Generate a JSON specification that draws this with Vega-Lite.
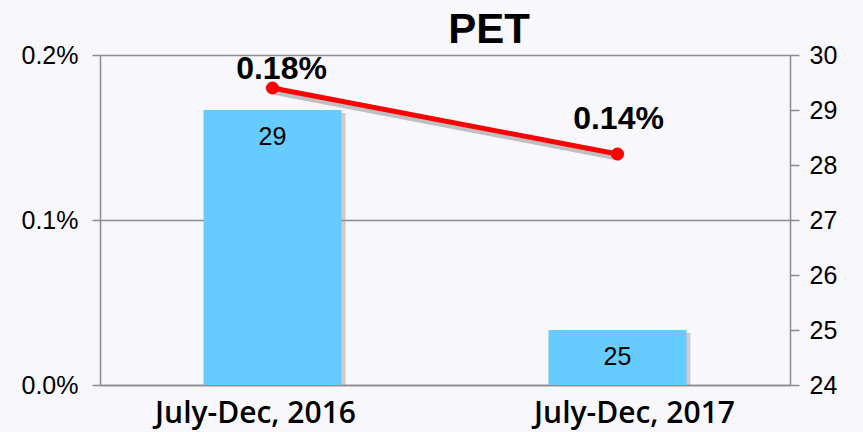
{
  "$schema": "https://vega.github.io/schema/vega-lite/v6.json",
  "width": 690,
  "height": 330,
  "autosize": {"type": "none"},
  "padding": {"left": 100, "top": 55, "right": 73, "bottom": 47},
  "background": "#f8f8fc",
  "title": {"text": "PET", "font": "Arial", "fontSize": 42, "fontWeight": "bold", "color": "#000000", "anchor": "middle", "dx": 44, "dy": 9, "offset": 0},
  "data": {"values": [
    {"period": "July-Dec, 2016", "count": 29, "rate": 0.0018},
    {"period": "July-Dec, 2017", "count": 25, "rate": 0.0014}
  ]},
  "encoding": {
    "x": {"field": "period", "type": "nominal", "sort": null,
      "scale": {"paddingInner": 0.6, "paddingOuter": 0.3},
      "axis": {"title": null, "labelAngle": 0, "labelFont": "Open Sans", "labelFontSize": 30, "labelFontWeight": 600, "labelColor": "#000000", "labelBaseline": "alphabetic", "labelPadding": 37, "labelLimit": 400, "ticks": false, "domainColor": "#8c8c8c", "domainWidth": 1.5,
        "labelOffset": {"condition": {"test": "datum.index < 0.5", "value": -17}, "value": 17}}}
  },
  "layer": [
    {
      "layer": [
        {"mark": {"type": "bar", "color": "#9a9a9a", "opacity": 0.45, "xOffset": 4, "yOffset": 3},
         "encoding": {"y": {"field": "count", "type": "quantitative", "scale": {"domain": [24, 30], "zero": false, "nice": false},
           "axis": {"orient": "right", "title": null, "values": [24, 25, 26, 27, 28, 29, 30], "format": "d", "grid": false, "labelFont": "Arial", "labelFontSize": 25, "labelColor": "#000000", "labelPadding": 10, "tickSize": 9, "tickColor": "#8c8c8c", "domainColor": "#8c8c8c", "domainWidth": 1.5, "tickWidth": 1.5}},
           "y2": {"datum": 24}}},
        {"mark": {"type": "bar", "color": "#66ccff"},
         "encoding": {"y": {"field": "count", "type": "quantitative"}, "y2": {"datum": 24}}},
        {"mark": {"type": "text", "font": "Arial", "fontSize": 25, "color": "#000000", "baseline": "middle", "dy": 27},
         "encoding": {"y": {"field": "count", "type": "quantitative"}, "text": {"field": "count", "type": "quantitative"}}}
      ]
    },
    {
      "layer": [
        {"mark": {"type": "line", "color": "#555555", "opacity": 0.35, "strokeWidth": 6, "xOffset": 3, "yOffset": 4},
         "encoding": {"y": {"field": "rate", "type": "quantitative", "scale": {"domain": [0, 0.002], "nice": false},
           "axis": {"orient": "left", "title": null, "values": [0, 0.001, 0.002], "format": ".1%", "grid": true, "gridColor": "#8c8c8c", "gridWidth": 1.5, "labelFont": "Arial", "labelFontSize": 25, "labelColor": "#000000", "labelPadding": 14, "tickSize": 8, "tickColor": "#8c8c8c", "tickWidth": 1.5, "domainColor": "#8c8c8c", "domainWidth": 1.5}}}},
        {"mark": {"type": "line", "color": "#ff0000", "strokeWidth": 5},
         "encoding": {"y": {"field": "rate", "type": "quantitative"}}},
        {"mark": {"type": "point", "filled": true, "color": "#ff0000", "size": 170, "opacity": 1},
         "encoding": {"y": {"field": "rate", "type": "quantitative"}}},
        {"transform": [{"filter": "datum.period === 'July-Dec, 2016'"}],
         "mark": {"type": "text", "font": "Arial", "fontSize": 32, "fontWeight": "bold", "color": "#000000", "baseline": "middle", "dx": 9, "dy": -19},
         "encoding": {"y": {"field": "rate", "type": "quantitative"}, "text": {"field": "rate", "type": "quantitative", "format": ".2%"}}},
        {"transform": [{"filter": "datum.period === 'July-Dec, 2017'"}],
         "mark": {"type": "text", "font": "Arial", "fontSize": 32, "fontWeight": "bold", "color": "#000000", "baseline": "middle", "dx": 1, "dy": -35},
         "encoding": {"y": {"field": "rate", "type": "quantitative"}, "text": {"field": "rate", "type": "quantitative", "format": ".2%"}}}
      ]
    }
  ],
  "resolve": {"scale": {"y": "independent"}},
  "config": {"view": {"stroke": null}}
}
